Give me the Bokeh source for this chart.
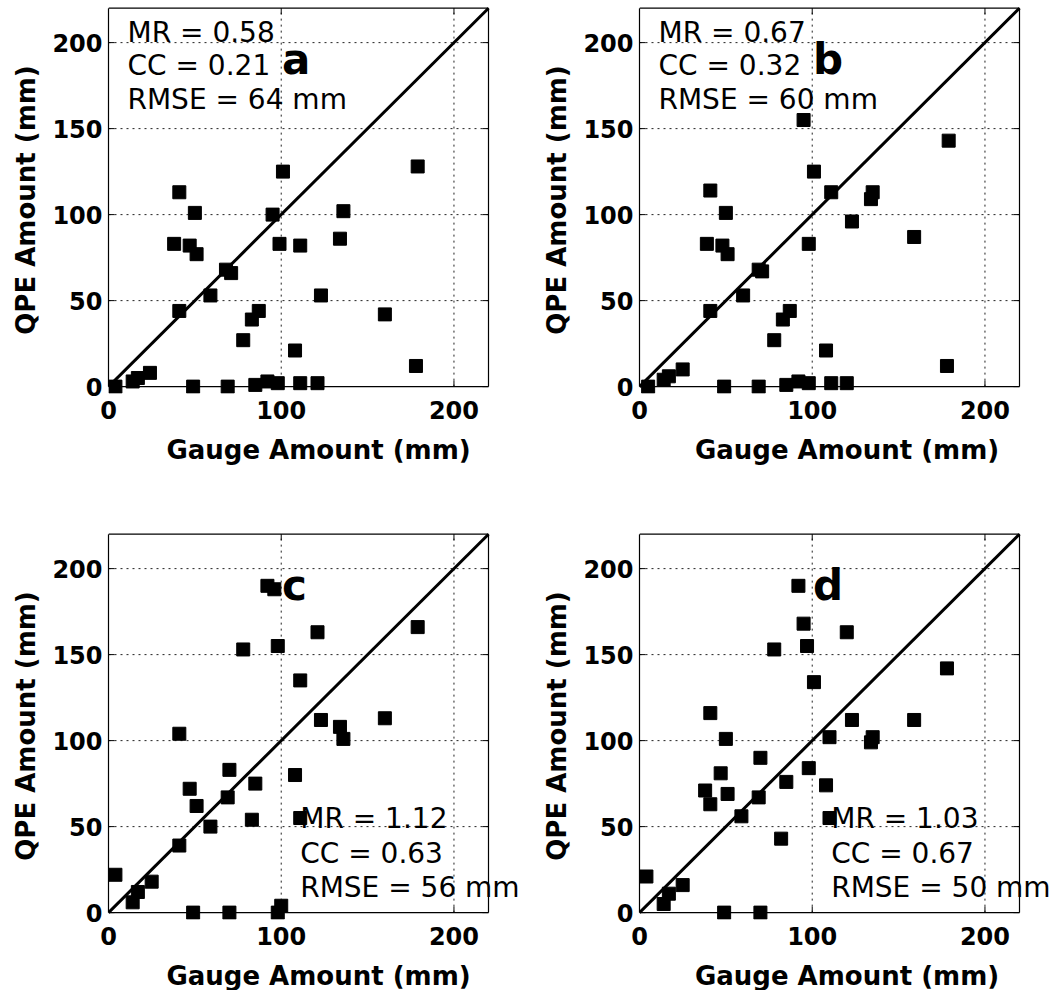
from bokeh.plotting import figure
from bokeh.models import Range1d, FixedTicker, Label
from bokeh.layouts import column, row
from bokeh.embed import file_html
from bokeh.resources import INLINE

# ---------------- data ----------------
gauge_a = [4, 14, 17, 24, 41, 50, 38, 47, 51, 41, 59, 68, 71, 49, 69, 78, 83, 87, 85, 92, 98,
           101, 95, 99, 111, 108, 111, 121, 123, 136, 134, 160, 179, 178]
qpe_a = [0, 3, 5, 8, 113, 101, 83, 82, 77, 44, 53, 68, 66, 0, 0, 27, 39, 44, 1, 3, 2,
         125, 100, 83, 82, 21, 2, 2, 53, 102, 86, 42, 128, 12]

gauge_b = [5, 14, 17, 25, 41, 50, 39, 48, 51, 41, 60, 69, 71, 49, 69, 78, 83, 87, 85, 92, 98,
           95, 101, 98, 111, 108, 111, 120, 123, 134, 135, 159, 179, 178]
qpe_b = [0, 4, 6, 10, 114, 101, 83, 82, 77, 44, 53, 68, 67, 0, 0, 27, 39, 44, 1, 3, 2,
         155, 125, 83, 113, 21, 2, 2, 96, 109, 113, 87, 143, 12]

gauge_c = [4, 14, 17, 25, 41, 41, 47, 51, 59, 69, 70, 49, 70, 78, 83, 85, 92, 96, 98, 98, 100,
           108, 111, 111, 121, 123, 134, 136, 160, 179]
qpe_c = [22, 6, 12, 18, 104, 39, 72, 62, 50, 67, 83, 0, 0, 153, 54, 75, 190, 188, 155, 0, 4,
         80, 55, 135, 163, 112, 108, 101, 113, 166]

gauge_d = [4, 14, 17, 25, 41, 38, 41, 47, 50, 51, 59, 69, 70, 49, 70, 78, 82, 85, 92, 95, 97,
           101, 98, 108, 110, 110, 120, 123, 134, 135, 159, 178]
qpe_d = [21, 5, 11, 16, 116, 71, 63, 81, 101, 69, 56, 67, 90, 0, 0, 153, 43, 76, 190, 168, 155,
         134, 84, 74, 55, 102, 163, 112, 99, 102, 112, 142]

panel_letters = ["a", "b", "c", "d"]
stats_a = ["MR = 0.58", "CC = 0.21", "RMSE = 64 mm"]
stats_b = ["MR = 0.67", "CC = 0.32", "RMSE = 60 mm"]
stats_c = ["MR = 1.12", "CC = 0.63", "RMSE = 56 mm"]
stats_d = ["MR = 1.03", "CC = 0.67", "RMSE = 50 mm"]

x_ticks = [0, 100, 200]
y_ticks = [0, 50, 100, 150, 200]
axis_min, axis_max = 0, 220
one_to_one = [0, 220]
x_label = "Gauge Amount (mm)"
y_label = "QPE Amount (mm)"

# ---------------- style / geometry ----------------
FONT = "DejaVu Sans"
PX_PER_UNIT = 380 / 220          # plot scale in pixels per mm
Y_PAD_LOW, Y_PAD_HIGH = 4, 1     # small data padding so edge markers/lines are not clipped
TICK_LEN = 3.5                   # inward tick length, data units


def make_panel(gx, qy, letter, stats, stats_x, stats_y, left_col, top_row):
    frame_w = 420 if left_col else 415
    x_end = axis_max + (frame_w - 380) / PX_PER_UNIT
    p = figure(
        frame_width=frame_w, frame_height=387,
        x_range=Range1d(axis_min, x_end),
        y_range=Range1d(axis_min - Y_PAD_LOW, axis_max + Y_PAD_HIGH),
        output_backend="svg", toolbar_location=None,
        min_border_left=108 if left_col else 100,
        min_border_right=11 if left_col else 2,
        min_border_top=6 if top_row else 64,
        min_border_bottom=75 if top_row else 66,
        background_fill_color="white", border_fill_color="white",
    )
    p.outline_line_color = None
    p.xgrid.visible = False
    p.ygrid.visible = False

    for ax in (p.xaxis, p.yaxis):
        ax.major_tick_line_color = None
        ax.minor_tick_line_color = None
        ax.major_tick_out = 0
        ax.major_tick_in = 0
        ax.major_label_text_font = FONT
        ax.major_label_text_font_style = "bold"
        ax.major_label_text_font_size = "24px"
        ax.major_label_text_color = "black"
        ax.axis_label_text_font = FONT
        ax.axis_label_text_font_style = "bold"
        ax.axis_label_text_font_size = "26px"
        ax.axis_label_text_color = "black"
    p.xaxis.axis_line_color = None
    p.yaxis.axis_line_color = "black"
    p.yaxis.axis_line_width = 1.2
    p.yaxis.bounds = (axis_min, axis_max)
    p.xaxis.ticker = FixedTicker(ticks=x_ticks)
    p.yaxis.ticker = FixedTicker(ticks=y_ticks)
    p.xaxis.axis_label = x_label
    p.yaxis.axis_label = y_label
    p.xaxis.major_label_standoff = 7
    p.yaxis.major_label_standoff = 6
    p.xaxis.axis_label_standoff = 13
    p.yaxis.axis_label_standoff = 8

    # dotted grid
    gx_lines = [t for t in x_ticks if t > axis_min]
    gy_lines = [t for t in y_ticks if t > axis_min]
    p.segment(x0=gx_lines, y0=[axis_min] * len(gx_lines), x1=gx_lines, y1=[axis_max] * len(gx_lines),
              line_color="#222222", line_dash="2 4", line_width=1)
    p.segment(x0=[axis_min] * len(gy_lines), y0=gy_lines, x1=[axis_max] * len(gy_lines), y1=gy_lines,
              line_color="#222222", line_dash="2 4", line_width=1)

    # box (bottom, top, right)
    p.segment(x0=[axis_min, axis_min, axis_max], y0=[axis_min, axis_max, axis_min],
              x1=[axis_max, axis_max, axis_max], y1=[axis_min, axis_max, axis_max],
              line_color="black", line_width=1.2)
    # inward ticks on all four sides
    p.segment(x0=x_ticks, y0=[axis_min] * len(x_ticks), x1=x_ticks,
              y1=[axis_min + TICK_LEN] * len(x_ticks), line_color="black", line_width=1)
    p.segment(x0=x_ticks, y0=[axis_max] * len(x_ticks), x1=x_ticks,
              y1=[axis_max - TICK_LEN] * len(x_ticks), line_color="black", line_width=1)
    p.segment(x0=[axis_min] * len(y_ticks), y0=y_ticks, x1=[axis_min + TICK_LEN] * len(y_ticks),
              y1=y_ticks, line_color="black", line_width=1)
    p.segment(x0=[axis_max] * len(y_ticks), y0=y_ticks, x1=[axis_max - TICK_LEN] * len(y_ticks),
              y1=y_ticks, line_color="black", line_width=1)

    p.line(one_to_one, one_to_one, line_color="black", line_width=3)
    p.scatter(gx, qy, marker="square", size=13, fill_color="black", line_color="black")

    p.add_layout(Label(x=100.5, y=190, text=letter, text_font=FONT, text_font_style="bold",
                       text_font_size="42px", text_color="black", text_baseline="alphabetic"))
    for s, yy in zip(stats, stats_y):
        p.add_layout(Label(x=stats_x, y=yy, text=s, text_font=FONT, text_font_size="28px",
                           text_color="black", text_baseline="alphabetic"))
    return p


top_stats_y = [206, 186.5, 167]
bot_stats_y = [54.5, 34.5, 14.5]

pa = make_panel(gauge_a, qpe_a, panel_letters[0], stats_a, 11, top_stats_y, True, True)
pb = make_panel(gauge_b, qpe_b, panel_letters[1], stats_b, 11, top_stats_y, False, True)
pc = make_panel(gauge_c, qpe_c, panel_letters[2], stats_c, 111, bot_stats_y, True, False)
pd = make_panel(gauge_d, qpe_d, panel_letters[3], stats_d, 111, bot_stats_y, False, False)

layout = column(row(pa, pb), row(pc, pd))
open("out.html", "w").write(file_html(layout, INLINE))
